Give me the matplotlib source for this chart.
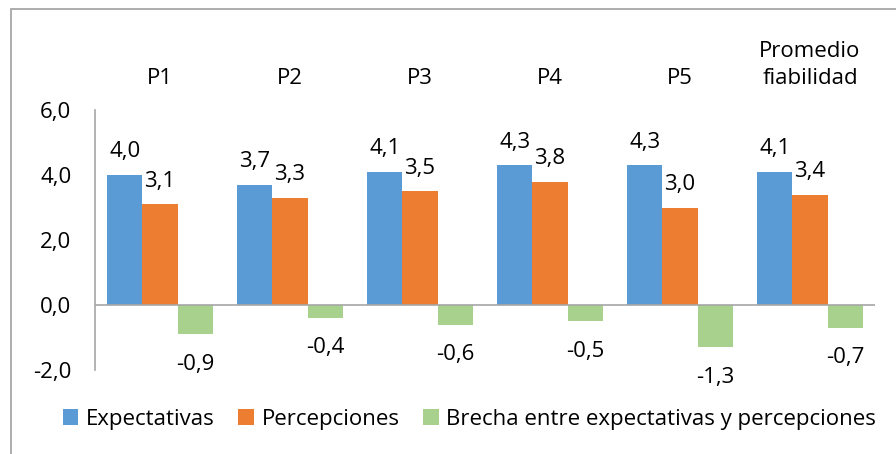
import numpy as np
import matplotlib
matplotlib.use('Agg')
import matplotlib.pyplot as plt
from matplotlib.patches import Rectangle

plt.rcParams['font.family'] = ['Open Sans', 'DejaVu Sans']

# data
categorias = ['P1', 'P2', 'P3', 'P4', 'P5', 'Promedio\nfiabilidad']
expectativas = [4.0, 3.7, 4.1, 4.3, 4.3, 4.1]
percepciones = [3.1, 3.3, 3.5, 3.8, 3.0, 3.4]
brecha = [-0.9, -0.4, -0.6, -0.5, -1.3, -0.7]
series = ['Expectativas', 'Percepciones', 'Brecha entre expectativas y percepciones']
colores = ['#5B9BD5', '#ED7D31', '#A9D18E']
yticks = [-2.0, 0.0, 2.0, 4.0, 6.0]

fs = 16
gris = '#A6A6A6'

fig = plt.figure(figsize=(8.96, 4.54), dpi=100)
ax = fig.add_axes([95/896, 84/454, 780/896, 260/454])

# chart border (only top and left sides in view)
fig.patches.append(Rectangle((11/896, -0.1), 2, (454-9)/454 + 0.1,
                             transform=fig.transFigure, fill=False,
                             edgecolor='#A0A0A0', linewidth=1.2))

x = np.arange(len(categorias))
w = 0.27
for i, (vals, col, name) in enumerate(zip([expectativas, percepciones, brecha], colores, series)):
    xs = x + (i - 1) * w
    ax.bar(xs, vals, width=w, color=col, label=name, zorder=2)
    for xi, v in zip(xs, vals):
        txt = ('%.1f' % v).replace('.', ',')
        if v >= 0:
            ax.annotate(txt, (xi, v), xytext=(0, 9), textcoords='offset points',
                        ha='center', va='bottom', fontsize=fs)
        else:
            ax.annotate(txt, (xi, v), xytext=(0, -14), textcoords='offset points',
                        ha='center', va='top', fontsize=fs)

# category labels over the plot
for xi, c in zip(x, categorias):
    ax.text(xi, 1.08, c, transform=ax.get_xaxis_transform(), ha='center',
            va='bottom', fontsize=fs, linespacing=1.4)

ax.set_xlim(-0.5, len(categorias) - 0.5)
ax.set_ylim(-2, 6)
ax.set_yticks(yticks)
ax.set_yticklabels([('%.1f' % t).replace('.', ',') for t in yticks], fontsize=fs)
ax.set_xticks([])
ax.tick_params(axis='y', length=0, pad=17)
ax.axhline(0, color=gris, linewidth=1.2, zorder=3)
for s in ['top', 'right', 'bottom']:
    ax.spines[s].set_visible(False)
ax.spines['left'].set_color(gris)
ax.spines['left'].set_linewidth(1.2)

fig.legend(loc='center left', bbox_to_anchor=(54/896, 1 - 419/454), ncol=3,
           frameon=False, fontsize=fs, handlelength=0.7, handleheight=0.7,
           handletextpad=0.35, columnspacing=1.05, borderaxespad=0)

fig.savefig('out.png', dpi=100)
